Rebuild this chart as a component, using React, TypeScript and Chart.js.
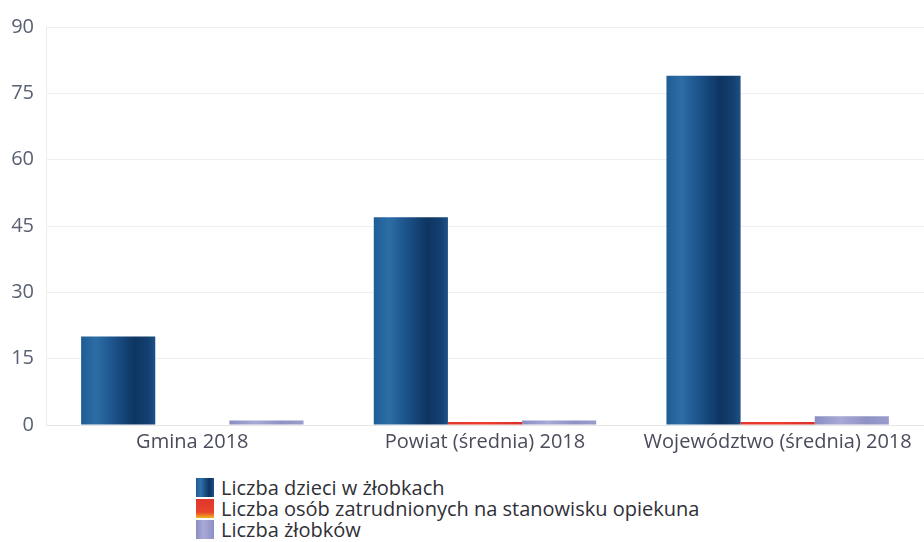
import React, { useEffect, useRef } from "react";
import { Chart, registerables } from "chart.js";

Chart.register(...registerables);

const categories = ["Gmina 2018", "Powiat (średnia) 2018", "Województwo (średnia) 2018"];
const seriesNames = [
  "Liczba dzieci w żłobkach",
  "Liczba osób zatrudnionych na stanowisku opiekuna",
  "Liczba żłobków",
];
const childrenValues = [20, 47, 79];
const staffValues = [0, 0.7, 0.7];
const nurseryValues = [1, 1, 2];
const yMin = 0;
const yMax = 90;
const yStep = 15;

const gradientStops: [number, string][][] = [
  [
    [0, "#1e5c95"],
    [0.2, "#2d6ea6"],
    [0.45, "#1b5189"],
    [0.72, "#0e3562"],
    [0.9, "#143f70"],
    [1, "#1d5187"],
  ],
  [
    [0, "#e3382c"],
    [0.5, "#ee3d2b"],
    [1, "#d8302a"],
  ],
  [
    [0, "#8a8dc2"],
    [0.35, "#a7aad6"],
    [0.7, "#8e91c4"],
    [1, "#9a9dcc"],
  ],
];
const solidColors = ["#174a80", "#e5382a", "#9295c8"];

const gradientPlugin = {
  id: "barGradients",
  beforeDatasetsDraw(chart: any) {
    const ctx = chart.ctx;
    chart.data.datasets.forEach((_: any, i: number) => {
      const meta = chart.getDatasetMeta(i);
      meta.data.forEach((el: any) => {
        const { x, width } = el.getProps(["x", "width"], true);
        if (!isFinite(x) || !isFinite(width) || width <= 0) return;
        const g = ctx.createLinearGradient(x - width / 2, 0, x + width / 2, 0);
        gradientStops[i].forEach(([o, c]) => g.addColorStop(o, c));
        el.options = Object.assign({}, el.options, { backgroundColor: g });
      });
    });
  },
};

function LegendBox({ idx }: { idx: number }) {
  const bg =
    idx === 0
      ? "linear-gradient(90deg,#1e5c95,#2f71aa 25%,#0c3360 75%,#1d5187)"
      : idx === 1
      ? "linear-gradient(180deg,#e0352c,#e8452c 70%,#f2b51d)"
      : "linear-gradient(90deg,#8a8dc2,#a7aad6 40%,#8e91c4)";
  return <div style={{ width: 18, height: 19, background: bg, marginRight: 7, flex: "none" }} />;
}

export default function App() {
  const canvasRef = useRef<HTMLCanvasElement | null>(null);

  useEffect(() => {
    document.body.style.margin = "0";
    const canvas = canvasRef.current;
    if (!canvas) return;
    const font = "'Open Sans', sans-serif";
    const chart = new Chart(canvas, {
      type: "bar",
      data: {
        labels: categories,
        datasets: [
          { label: seriesNames[0], data: childrenValues, backgroundColor: solidColors[0] },
          { label: seriesNames[1], data: staffValues, backgroundColor: solidColors[1] },
          { label: seriesNames[2], data: nurseryValues, backgroundColor: solidColors[2] },
        ],
      },
      options: {
        responsive: false,
        animation: false,
        layout: { padding: { top: 27, right: 0, left: 0, bottom: 0 } },
        datasets: {
          bar: { categoryPercentage: 0.76, barPercentage: 1, borderWidth: 0 },
        },
        plugins: {
          legend: { display: false },
          tooltip: { enabled: false },
        },
        scales: {
          x: {
            grid: { display: false, drawTicks: false },
            border: { display: true, color: "#e6e6e6" },
            ticks: { color: "#4a4c5c", font: { family: font, size: 20 }, padding: 5 },
            afterFit: (s: any) => {
              s.height = 40;
            },
          },
          y: {
            min: yMin,
            max: yMax,
            ticks: { stepSize: yStep, color: "#5a6174", font: { family: font, size: 20 }, padding: 12 },
            grid: { color: "#efefef", drawTicks: false },
            border: { display: true, color: "#ececec" },
            afterFit: (s: any) => {
              s.width = 46;
            },
          },
        },
      },
      plugins: [gradientPlugin],
    });
    return () => chart.destroy();
  }, []);

  return (
    <div style={{ position: "relative", width: 924, height: 542, overflow: "hidden", background: "#fff" }}>
      <canvas ref={canvasRef} width={924} height={465} style={{ display: "block" }} />
      <div
        style={{
          position: "absolute",
          left: 196,
          top: 477,
          fontFamily: "'Open Sans', sans-serif",
          fontSize: 20,
          color: "#2f3038",
          lineHeight: "20px",
        }}
      >
        {seriesNames.map((n, i) => (
          <div key={n} style={{ display: "flex", alignItems: "center", height: 21 }}>
            <LegendBox idx={i} />
            <span>{n}</span>
          </div>
        ))}
      </div>
    </div>
  );
}
